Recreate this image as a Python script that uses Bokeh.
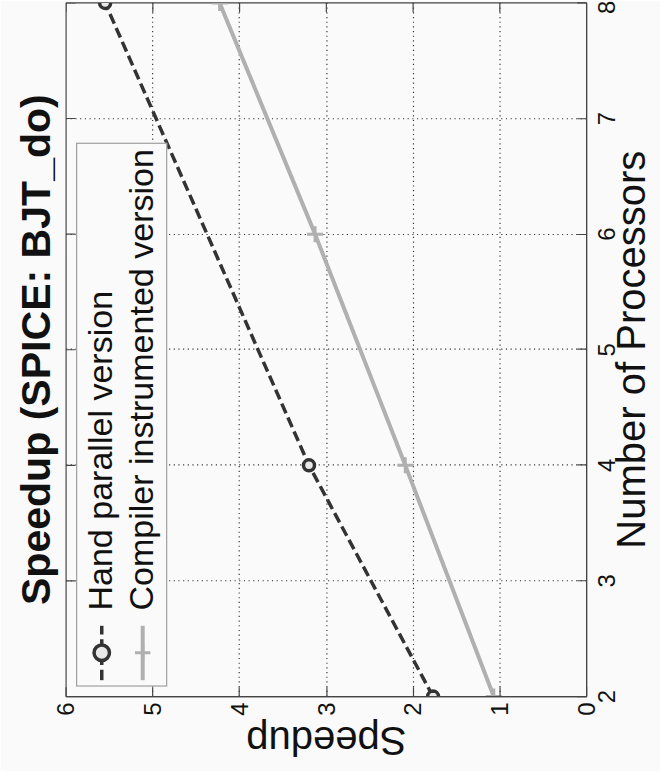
from bokeh.plotting import figure
from bokeh.models import Range1d, FixedTicker, Title, InlineStyleSheet, GlobalInlineStyleSheet
from bokeh.embed import file_html
from bokeh.resources import INLINE

# ---- data (the page shows it turned a quarter turn) ----
processors_hand = [2, 4, 8]
speedup_hand = [1.77, 3.2, 5.55]
processors_comp = [2, 4, 6, 8]
speedup_comp = [1.07, 2.09, 3.13, 4.23]
processor_ticks = [2, 3, 4, 5, 6, 7, 8]
speedup_ticks = [0, 1, 2, 3, 4, 5, 6]
title_text = "Speedup (SPICE: BJT_do)"
processors_label = "Number of Processors"
speedup_label = "Speedup"
legend_labels = ["Hand parallel version", "Compiler instrumented version"]

# ---- layout / style ----
# The figure is drawn landscape at a reduced size and its canvas is turned
# -90deg and enlarged by CSS so that it fills the 660x772 page.
WIN_W, WIN_H = 660, 772
S = WIN_H / WIN_W                      # enlargement applied by CSS


def z(v):
    """target pixels -> internal pixels"""
    return v / S


PW = WIN_W                              # internal width  (becomes page height)
PH = int(round(z(WIN_W)))               # internal height (becomes page width)
BL, BR, BT, BB = int(round(z(75))), int(round(z(4))), int(round(z(66))), int(round(z(74)))
BG = "#fafafa"
FONT = "Liberation Sans"
TEXT = "#111111"
HAND_COLOR = "#333333"
COMP_COLOR = "#b0b0b0"
AXIS_COLOR = "#444444"
TICK_LEN = int(round(z(9)))
PR_MIN, PR_MAX = 2, 8
SP_MIN, SP_MAX = 0, 6

px_per_proc = (PW - BL - BR) / (PR_MAX - PR_MIN)
px_per_speed = (PH - BT - BB) / (SP_MAX - SP_MIN)


def fs(v):
    return "%.1fpx" % z(v)


rotate_css = InlineStyleSheet(css=(
    ".bk-Canvas { transform: translateY(%dpx) rotate(-90deg) scale(%.5f); "
    "transform-origin: 0 0; }" % (WIN_H, S)))
page_css = GlobalInlineStyleSheet(css="html, body { overflow: hidden; margin: 0; }")

p = figure(width=PW, height=PH, title=None,
           x_range=Range1d(PR_MIN, PR_MAX), y_range=Range1d(SP_MIN, SP_MAX),
           output_backend="svg", toolbar_location=None,
           min_border_left=BL, min_border_right=BR,
           min_border_top=BT, min_border_bottom=BB,
           background_fill_color=BG, border_fill_color=BG,
           stylesheets=[rotate_css, page_css])
p.outline_line_color = AXIS_COLOR
p.outline_line_width = 1

p.add_layout(Title(text=title_text, align="center", text_font=FONT,
                   text_font_size=fs(41), text_font_style="bold",
                   text_color=TEXT, standoff=int(round(z(15)))), "above")

xa = p.xaxis[0]
xa.ticker = FixedTicker(ticks=processor_ticks)
xa.axis_label = processors_label
xa.major_label_standoff = int(round(z(12)))
xa.axis_label_standoff = int(round(z(-9)))
ya = p.yaxis[0]
ya.ticker = FixedTicker(ticks=speedup_ticks)
ya.axis_label = speedup_label
ya.major_label_standoff = int(round(z(6)))
ya.axis_label_standoff = 0
for ax in (xa, ya):
    ax.major_tick_in = TICK_LEN
    ax.major_tick_out = 0
    ax.minor_tick_line_color = None
    ax.axis_line_color = AXIS_COLOR
    ax.major_tick_line_color = AXIS_COLOR
    ax.major_label_text_font = FONT
    ax.major_label_text_font_size = fs(24)
    ax.major_label_text_color = TEXT
    ax.axis_label_text_font = FONT
    ax.axis_label_text_font_size = fs(40)
    ax.axis_label_text_font_style = "normal"
    ax.axis_label_text_color = TEXT

# grid
p.xgrid.ticker = FixedTicker(ticks=processor_ticks)
p.ygrid.ticker = FixedTicker(ticks=speedup_ticks)
for g in (p.xgrid[0], p.ygrid[0]):
    g.grid_line_color = "#333333"
    g.grid_line_dash = "1 3"
    g.grid_line_width = 1

# inward ticks on the top and right frame edges (box style)
p.segment(x0=processor_ticks, y0=[SP_MAX] * len(processor_ticks),
          x1=processor_ticks, y1=[SP_MAX - TICK_LEN / px_per_speed] * len(processor_ticks),
          line_color=AXIS_COLOR, line_width=1)
p.segment(x0=[PR_MAX] * len(speedup_ticks), y0=speedup_ticks,
          x1=[PR_MAX - TICK_LEN / px_per_proc] * len(speedup_ticks), y1=speedup_ticks,
          line_color=AXIS_COLOR, line_width=1)

# data series
p.line(processors_hand, speedup_hand, line_color=HAND_COLOR, line_width=z(3.5),
       line_dash="9 4", legend_label=legend_labels[0])
p.scatter(processors_hand, speedup_hand, marker="circle", size=z(11),
          fill_color="#e8e8e8", line_color=HAND_COLOR, line_width=z(3.5),
          legend_label=legend_labels[0])
p.line(processors_comp, speedup_comp, line_color=COMP_COLOR, line_width=z(4),
       legend_label=legend_labels[1])
p.scatter(processors_comp, speedup_comp, marker="cross", size=z(16),
          line_color=COMP_COLOR, line_width=z(3), legend_label=legend_labels[1])

lg = p.legend[0]
lg.location = "top_left"
lg.margin = int(round(z(10)))
lg.padding = int(round(z(5)))
lg.spacing = 2
lg.glyph_width = int(round(z(55)))
lg.glyph_height = int(round(z(39)))
lg.label_height = int(round(z(39)))
lg.label_standoff = int(round(z(15)))
lg.label_text_font = FONT
lg.label_text_font_size = fs(34)
lg.label_text_color = TEXT
lg.background_fill_color = BG
lg.background_fill_alpha = 1.0
lg.border_line_color = AXIS_COLOR
lg.border_line_width = 1

open("out.html", "w").write(file_html(p, INLINE))
